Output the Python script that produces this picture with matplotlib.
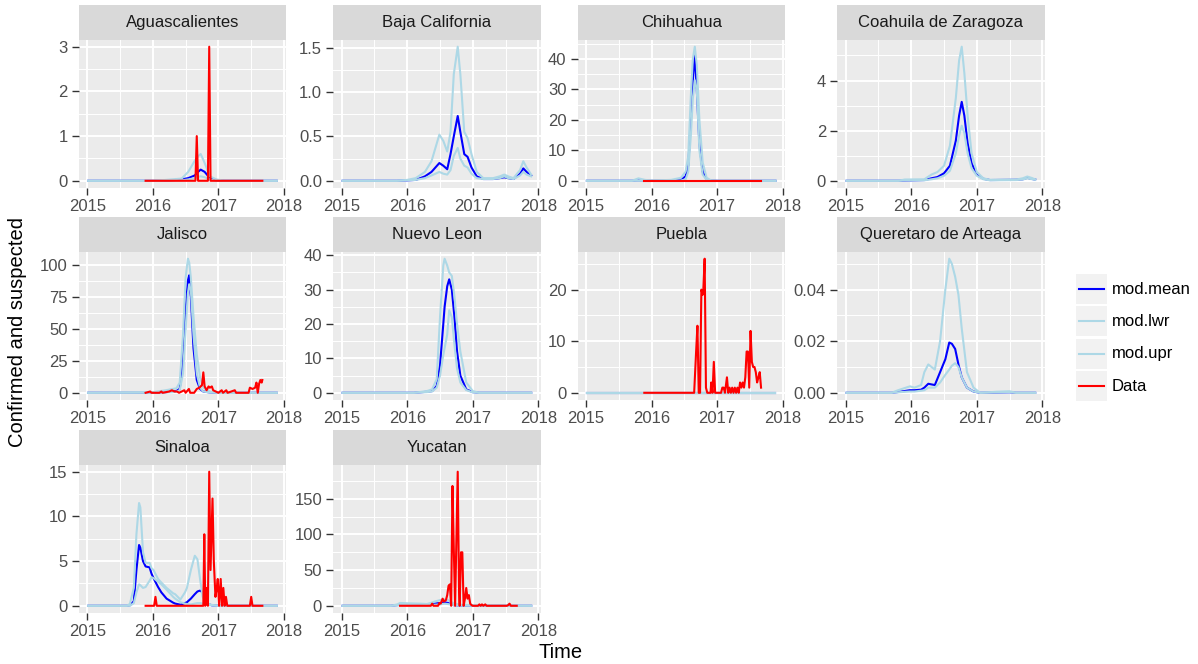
import matplotlib
matplotlib.use("Agg")
import matplotlib.pyplot as plt
import numpy as np
from matplotlib.patches import Rectangle
from matplotlib.lines import Line2D

plt.rcParams['font.family'] = ['Liberation Sans', 'DejaVu Sans']

# ---- data (time in decimal years) ----
# Aguascalientes
agu_t = [2015.015, 2016.0, 2016.2, 2016.44, 2016.54, 2016.64, 2016.69, 2016.73, 2016.79, 2016.87, 2016.97, 2017.1, 2017.89]
agu_mean = [0, 0, 0, 0.03, 0.06, 0.12, 0.2, 0.25, 0.2, 0.06, 0.01, 0, 0]
agu_lwr = [0, 0, 0, 0.01, 0.03, 0.06, 0.09, 0.1, 0.08, 0.03, 0, 0, 0]
agu_upr = [0, 0, 0.02, 0.05, 0.2, 0.45, 0.55, 0.6, 0.4, 0.1, 0.03, 0, 0]
agu_dt = [2015.89, 2016.65, 2016.67, 2016.69, 2016.84, 2016.86, 2016.88, 2017.67]
agu_dv = [0, 0, 1, 0, 0, 3, 0, 0]

# Baja California
baj_t = [2015.015, 2015.84, 2016.0, 2016.13, 2016.27, 2016.37, 2016.49, 2016.55, 2016.61, 2016.66, 2016.71,
         2016.77, 2016.81, 2016.87, 2016.92, 2016.98, 2017.06, 2017.16, 2017.31, 2017.41, 2017.48, 2017.54,
         2017.62, 2017.72, 2017.77, 2017.82, 2017.89]
baj_mean = [0, 0, 0.005, 0.01, 0.05, 0.1, 0.2, 0.17, 0.13, 0.3, 0.5, 0.73, 0.55, 0.3, 0.27, 0.15, 0.05,
            0.02, 0.02, 0.03, 0.04, 0.03, 0.02, 0.08, 0.14, 0.1, 0.06]
baj_lwr = [0, 0, 0.005, 0.01, 0.03, 0.06, 0.1, 0.08, 0.07, 0.12, 0.28, 0.37, 0.25, 0.17, 0.15, 0.08, 0.03,
           0.02, 0.02, 0.03, 0.05, 0.03, 0.02, 0.06, 0.1, 0.07, 0.05]
baj_upr = [0, 0, 0.01, 0.03, 0.1, 0.22, 0.52, 0.45, 0.33, 0.55, 1.2, 1.51, 1.2, 0.55, 0.48, 0.3, 0.1,
           0.03, 0.03, 0.05, 0.07, 0.05, 0.03, 0.12, 0.22, 0.15, 0.07]
baj_dt = []
baj_dv = []

# Chihuahua
chi_t = [2015.015, 2015.7, 2015.8, 2015.9, 2016.0, 2016.3, 2016.45, 2016.52, 2016.56, 2016.6, 2016.63,
         2016.66, 2016.69, 2016.73, 2016.78, 2016.84, 2016.9, 2017.0, 2017.89]
chi_mean = [0, 0, 0.1, 0.05, 0, 0.05, 0.3, 1.5, 5, 20, 33, 41.5, 30, 12, 3, 0.5, 0.1, 0, 0]
chi_lwr = [0, 0, 0, 0, 0, 0, 0.1, 0.5, 3, 15, 27, 33, 30, 10, 2, 0.3, 0, 0, 0]
chi_upr = [0, 0, 0.8, 0.3, 0.1, 0.3, 1, 3, 8, 28, 40, 44, 38, 20, 6, 1, 0.2, 0, 0]
chi_dt = [2015.89, 2017.67]
chi_dv = [0, 0]

# Coahuila de Zaragoza
coa_t = [2015.015, 2015.8, 2015.9, 2016.2, 2016.31, 2016.4, 2016.5, 2016.59, 2016.68, 2016.73, 2016.77,
         2016.81, 2016.86, 2016.92, 2017.0, 2017.1, 2017.2, 2017.6, 2017.7, 2017.77, 2017.83, 2017.89]
coa_mean = [0, 0, 0.01, 0.03, 0.1, 0.15, 0.3, 0.6, 1.6, 2.6, 3.15, 2.6, 1.5, 0.7, 0.25, 0.08, 0.03,
            0.04, 0.06, 0.12, 0.08, 0.05]
coa_lwr = [0, 0, 0.01, 0.02, 0.06, 0.1, 0.2, 0.4, 1.1, 1.8, 2.2, 1.9, 1.1, 0.5, 0.2, 0.06, 0.02,
           0.03, 0.05, 0.1, 0.07, 0.04]
coa_upr = [0, 0, 0.05, 0.06, 0.25, 0.35, 0.6, 1.4, 3.3, 4.8, 5.35, 4.3, 2.6, 1.1, 0.35, 0.1, 0.04,
           0.05, 0.1, 0.17, 0.12, 0.06]
coa_dt = []
coa_dv = []

# Jalisco
jal_t = [2015.015, 2016.0, 2016.2, 2016.3, 2016.36, 2016.41, 2016.46, 2016.5, 2016.535, 2016.555, 2016.58,
         2016.62, 2016.67, 2016.72, 2016.77, 2016.87, 2017.0, 2017.89]
jal_mean = [0, 0, 0.5, 1, 1.5, 3, 25, 65, 88, 92, 75, 35, 10, 3, 1, 0.3, 0, 0]
jal_lwr = [0, 0, 0.3, 0.5, 1, 2, 15, 50, 78, 85, 80, 45, 15, 4, 1, 0.2, 0, 0]
jal_upr = [0, 0.5, 2, 3, 3.5, 8, 45, 90, 105, 102, 90, 60, 30, 12, 4, 1, 0, 0]
jal_dt = [2015.89, 2015.96, 2015.98, 2016.10, 2016.13, 2016.15, 2016.25, 2016.29, 2016.33, 2016.37, 2016.40,
          2016.48, 2016.50, 2016.55, 2016.57, 2016.63, 2016.67, 2016.71, 2016.75, 2016.77, 2016.79, 2016.82,
          2016.85, 2016.87, 2016.90, 2016.92, 2016.96, 2017.00, 2017.05, 2017.07, 2017.12, 2017.14, 2017.25,
          2017.27, 2017.46, 2017.48, 2017.52, 2017.56, 2017.58, 2017.60, 2017.62, 2017.64, 2017.66, 2017.67]
jal_dv = [0, 1, 0, 0, 1, 0, 1, 2, 1, 1, 0,
          2, 0, 3, 0, 0, 3, 4, 6, 16, 5, 2,
          5, 4, 5, 2, 1, 0, 2, 0, 2, 0, 2,
          0, 0, 4, 3, 4, 8, 0, 7, 10, 8, 10]

# Nuevo Leon
nle_t = [2015.015, 2016.1, 2016.3, 2016.38, 2016.45, 2016.5, 2016.55, 2016.57, 2016.61, 2016.64, 2016.68,
         2016.72, 2016.76, 2016.81, 2016.9, 2017.0, 2017.1, 2017.89]
nle_mean = [0, 0, 0.3, 0.5, 2, 8, 20, 25, 31, 33, 30, 22, 12, 5, 1, 0.2, 0, 0]
nle_lwr = [0, 0, 0.2, 0.4, 1.5, 5, 11, 13, 17, 24, 22, 14, 7, 3, 0.8, 0.1, 0, 0]
nle_upr = [0, 0, 0.5, 1, 4, 22, 37, 39, 37, 35, 34, 28, 20, 12, 3, 0.5, 0, 0]
nle_dt = []
nle_dv = []

# Puebla
pue_t = [2015.015, 2016.5, 2017.89]
pue_mean = [0, 0, 0]
pue_lwr = [0, 0, 0]
pue_upr = [0, 0, 0]
pue_dt = [2015.89, 2016.65, 2016.68, 2016.70, 2016.72, 2016.74, 2016.76, 2016.78, 2016.79, 2016.81, 2016.83,
          2016.85, 2016.90, 2016.91, 2016.93, 2016.95, 2016.97, 2017.06, 2017.08, 2017.10, 2017.12, 2017.15,
          2017.17, 2017.19, 2017.21, 2017.23, 2017.25, 2017.27, 2017.29, 2017.31, 2017.33, 2017.35, 2017.37,
          2017.39, 2017.41, 2017.43, 2017.45, 2017.47, 2017.49, 2017.51, 2017.53, 2017.55, 2017.57, 2017.59,
          2017.61, 2017.63, 2017.65, 2017.67]
pue_dv = [0, 0, 8, 13, 0, 0, 20, 19, 20, 26, 1,
          0, 0, 2, 0, 6, 0, 0, 1, 1, 0, 3,
          0, 1, 0, 1, 0, 1, 0, 1, 0, 2, 1,
          2, 1, 3, 8, 8, 1, 12, 6, 5, 5, 4,
          2, 3, 4, 1]

# Queretaro de Arteaga
que_t = [2015.015, 2015.7, 2015.8, 2015.98, 2016.05, 2016.15, 2016.2, 2016.26, 2016.36, 2016.44, 2016.52,
         2016.58, 2016.62, 2016.67, 2016.72, 2016.77, 2016.85, 2016.95, 2017.05, 2017.3, 2017.5, 2017.6, 2017.89]
que_mean = [0, 0, 0.0003, 0.001, 0.001, 0.0012, 0.002, 0.0035, 0.003, 0.008, 0.013, 0.0195, 0.019, 0.017,
            0.011, 0.006, 0.002, 0.0005, 0, 0.0001, 0.0002, 0, 0]
que_lwr = [0, 0, 0.0002, 0.0005, 0.0005, 0.0008, 0.001, 0.002, 0.002, 0.004, 0.007, 0.009, 0.0105, 0.0115,
           0.01, 0.006, 0.002, 0.0005, 0, 0.0001, 0.0002, 0, 0]
que_upr = [0, 0, 0.001, 0.0025, 0.002, 0.003, 0.008, 0.011, 0.009, 0.02, 0.04, 0.052, 0.05, 0.045, 0.038,
           0.025, 0.008, 0.002, 0, 0.0004, 0.0006, 0, 0]
que_dt = []
que_dv = []

# Sinaloa
sin_t = [2015.015, 2015.6, 2015.65, 2015.71, 2015.75, 2015.79, 2015.81, 2015.85, 2015.89, 2015.95, 2015.98,
         2016.01, 2016.08, 2016.13, 2016.21, 2016.31, 2016.34, 2016.42, 2016.49, 2016.52, 2016.58, 2016.64,
         2016.68, 2016.72, 2016.76, 2016.81, 2016.9, 2017.0, 2017.89]
sin_mean = [0, 0, 0.05, 0.5, 4, 6.8, 6.5, 5, 4.4, 4.3, 3.6, 3.1, 2.1, 1.5, 0.8, 0.35, 0.25, 0.12, 0.3, 0.4,
            0.8, 1.3, 1.6, 1.7, 1.5, 0.3, 0.05, 0, 0]
sin_lwr = [0, 0, 0, 0.3, 1.5, 2.4, 2.3, 2.0, 2.1, 2.8, 3.2, 3.1, 2.7, 2.4, 1.8, 1.0, 0.8, 0.4, 0.25, 0.2,
           0.15, 0.25, 0.3, 0.3, 0.25, 0.15, 0.05, 0, 0]
sin_upr = [0, 0, 0.2, 2, 8, 11.5, 11, 6, 4.8, 4.8, 4.2, 4.0, 3.0, 2.6, 2.0, 1.4, 1.3, 0.7, 1.5, 2.0,
           4.0, 5.6, 5.2, 3.0, 1.0, 0.3, 0.1, 0, 0]
sin_dt = [2015.89, 2016.02, 2016.04, 2016.06, 2016.77, 2016.785, 2016.80, 2016.82, 2016.84, 2016.86, 2016.88,
          2016.91, 2016.93, 2016.955, 2016.975, 2016.99, 2017.01, 2017.035, 2017.055, 2017.075, 2017.095,
          2017.115, 2017.135, 2017.155, 2017.48, 2017.50, 2017.52, 2017.67]
sin_dv = [0, 0, 1, 0, 0, 8, 0, 2, 0, 15, 4,
          12, 5, 1, 2, 3, 0, 3, 0, 2, 0,
          1, 0, 0, 0, 1, 0, 0]

# Yucatan
yuc_t = [2015.015, 2015.75, 2015.85, 2015.89, 2016.0, 2016.2, 2016.3, 2016.36, 2016.42, 2016.5, 2016.57,
         2016.62, 2016.7, 2016.8, 2017.0, 2017.2, 2017.5, 2017.89]
yuc_mean = [0, 0, 1, 1.5, 2, 1.5, 1, 1.5, 3, 4, 5, 4, 1, 0.3, 0.1, 0, 0, 0]
yuc_lwr = [0, 0, 0.5, 1, 1, 0.8, 0.8, 1, 1.5, 2, 3, 2.5, 1, 0.2, 0, 0, 0, 0]
yuc_upr = [0, 0, 2, 4, 3.5, 3, 2.5, 4, 6, 8, 9, 8, 4, 1.5, 1, 0.5, 0.2, 0]
yuc_dt = [2015.89, 2016.36, 2016.38, 2016.40, 2016.47, 2016.49, 2016.51, 2016.54, 2016.56, 2016.59, 2016.61,
          2016.63, 2016.65, 2016.67, 2016.69, 2016.71, 2016.73, 2016.77, 2016.79, 2016.80, 2016.82, 2016.84,
          2016.86, 2016.88, 2016.90, 2016.92, 2016.94, 2016.96, 2016.98, 2017.00, 2017.08, 2017.10, 2017.12,
          2017.14, 2017.16, 2017.19, 2017.21, 2017.52, 2017.54, 2017.56, 2017.58, 2017.67]
yuc_dv = [0, 0, 3, 0, 0, 4, 3, 10, 6, 8, 15,
          28, 30, 0, 168, 80, 0, 188, 20, 0, 75, 75,
          0, 10, 25, 10, 15, 3, 1, 0, 0, 2, 0,
          2, 0, 2, 0, 0, 1, 3, 0, 0]

state_names = ["Aguascalientes", "Baja California", "Chihuahua", "Coahuila de Zaragoza", "Jalisco",
               "Nuevo Leon", "Puebla", "Queretaro de Arteaga", "Sinaloa", "Yucatan"]
y_ticks = [[0, 1, 2, 3], [0.0, 0.5, 1.0, 1.5], [0, 10, 20, 30, 40], [0, 2, 4], [0, 25, 50, 75, 100],
           [0, 10, 20, 30, 40], [0, 10, 20], [0.00, 0.02, 0.04], [0, 5, 10, 15], [0, 50, 100, 150]]
y_fmt = ["{:.0f}", "{:.1f}", "{:.0f}", "{:.0f}", "{:.0f}", "{:.0f}", "{:.0f}", "{:.2f}", "{:.0f}", "{:.0f}"]
x_ticks = [2015, 2016, 2017, 2018]

series = [
    (agu_t, agu_mean, agu_lwr, agu_upr, agu_dt, agu_dv),
    (baj_t, baj_mean, baj_lwr, baj_upr, baj_dt, baj_dv),
    (chi_t, chi_mean, chi_lwr, chi_upr, chi_dt, chi_dv),
    (coa_t, coa_mean, coa_lwr, coa_upr, coa_dt, coa_dv),
    (jal_t, jal_mean, jal_lwr, jal_upr, jal_dt, jal_dv),
    (nle_t, nle_mean, nle_lwr, nle_upr, nle_dt, nle_dv),
    (pue_t, pue_mean, pue_lwr, pue_upr, pue_dt, pue_dv),
    (que_t, que_mean, que_lwr, que_upr, que_dt, que_dv),
    (sin_t, sin_mean, sin_lwr, sin_upr, sin_dt, sin_dv),
    (yuc_t, yuc_mean, yuc_lwr, yuc_upr, yuc_dt, yuc_dv),
]

legend_labels = ["mod.mean", "mod.lwr", "mod.upr", "Data"]
legend_colors = ["#0000FF", "#ADD8E6", "#ADD8E6", "#FF0000"]

# ---- layout (pixels) ----
W, H = 1198, 664
fig = plt.figure(figsize=(W / 100, H / 100), dpi=100)

col_left = [78.8, 333.2, 577.5, 837.2]
row_top = [40, 252, 465]
pw, ph, sh = 207.4, 147.5, 35


def px_axes(left, top, w, h):
    return fig.add_axes([left / W, 1 - (top + h) / H, w / W, h / H])


all_t = [v for s in series for v in list(s[0]) + list(s[4])]
tmin, tmax = min(all_t), max(all_t)
tpad = 0.05 * (tmax - tmin)

for i, name in enumerate(state_names):
    r, c = divmod(i, 4)
    t, mean, lwr, upr, dt, dv = series[i]
    ax = px_axes(col_left[c], row_top[r], pw, ph)
    ax.set_facecolor('#EBEBEB')
    for sp in ax.spines.values():
        sp.set_visible(False)

    ax.plot(t, mean, color=legend_colors[0], lw=1.5, zorder=3)
    ax.plot(t, lwr, color=legend_colors[1], lw=1.5, zorder=4)
    ax.plot(t, upr, color=legend_colors[2], lw=1.5, zorder=5)
    if len(dt):
        ax.plot(dt, dv, color=legend_colors[3], lw=1.5, zorder=6)

    ymax = max(max(mean), max(lwr), max(upr), max(dv) if len(dv) else 0)
    ylo, yhi = -0.05 * ymax, 1.05 * ymax
    ax.set_xlim(tmin - tpad, tmax + tpad)
    ax.set_ylim(ylo, yhi)

    ax.set_xticks(x_ticks)
    ax.set_xticklabels([str(v) for v in x_ticks])
    ax.set_xticks([2015.5, 2016.5, 2017.5], minor=True)
    yt = y_ticks[i]
    ax.set_yticks(yt)
    ax.set_yticklabels([y_fmt[i].format(v) for v in yt])
    step = yt[1] - yt[0]
    ymin_minor = np.arange(yt[0] - step / 2, yt[-1] + step, step)
    ax.set_yticks([v for v in ymin_minor if ylo <= v <= yhi], minor=True)

    ax.grid(which='major', color='white', lw=1.4)
    ax.grid(which='minor', color='white', lw=0.7)
    ax.set_axisbelow(True)
    ax.tick_params(which='major', length=5, width=1, color='#333333',
                   labelsize=12, labelcolor='#4D4D4D', pad=3)
    ax.tick_params(which='minor', length=0)

    # facet strip
    st = px_axes(col_left[c], row_top[r] - sh, pw, sh)
    st.set_facecolor('#D9D9D9')
    st.set_xticks([])
    st.set_yticks([])
    for sp in st.spines.values():
        sp.set_visible(False)
    st.text(0.5, 0.5, name, ha='center', va='center', fontsize=12, color='#1A1A1A',
            transform=st.transAxes)

# axis titles
fig.text(561 / W, 1 - 652 / H, "Time", ha='center', va='center', fontsize=14.5)
fig.text(18 / W, 1 - 332 / H, "Confirmed and suspected", ha='center', va='center',
         rotation=90, fontsize=14.5)

# legend
for k, (lab, col) in enumerate(zip(legend_labels, legend_colors)):
    yc = 289 + 32.4 * k
    fig.add_artist(Rectangle((1076 / W, 1 - (yc + 15) / H), 31 / W, 30 / H,
                             transform=fig.transFigure, facecolor='#F2F2F2', edgecolor='none'))
    fig.add_artist(Line2D([1079 / W, 1104 / W], [1 - yc / H, 1 - yc / H],
                          transform=fig.transFigure, color=col, lw=1.5))
    fig.text(1112 / W, 1 - yc / H, lab, ha='left', va='center', fontsize=12)

fig.savefig('out.png', dpi=100)
